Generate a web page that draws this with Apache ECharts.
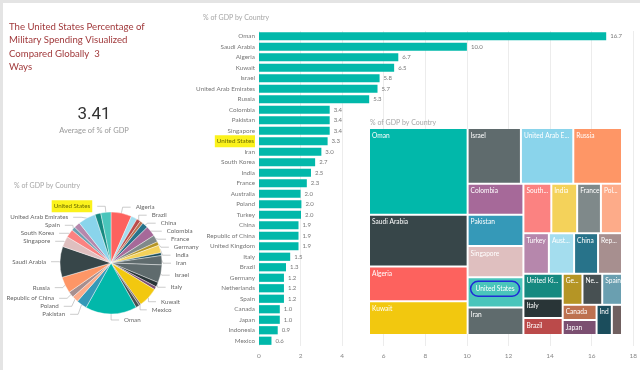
<!DOCTYPE html>
<html><head><meta charset="utf-8">
<script src="https://cdn.jsdelivr.net/npm/echarts@6/dist/echarts.min.js"></script>
<style>
html,body{margin:0;padding:0;background:#fff;}
#c{position:absolute;left:0;top:0;width:640px;height:370px;}
.ft{position:absolute;left:0;top:0;width:640px;height:3px;background:#e4e4e4;}
.fl{position:absolute;left:0;top:0;width:3px;height:370px;background:#e4e4e4;}
</style></head><body>
<div id="c"></div><div class="ft"></div><div class="fl"></div>
<script>
// Countries in the order of the bar chart (descending % of GDP)
const countries = ['Oman','Saudi Arabia','Algeria','Kuwait','Israel','United Arab Emirates','Russia',
  'Colombia','Pakistan','Singapore','United States','Iran','South Korea','India','France',
  'Australia','Poland','Turkey','China','Republic of China','United Kingdom','Italy','Brazil',
  'Germany','Netherlands','Spain','Canada','Japan','Indonesia','Mexico'];
const gdpShare = [16.7,10.0,6.7,6.5,5.8,5.7,5.3,
  3.4,3.4,3.4,3.3,3.0,2.7,2.5,2.3,
  2.0,2.04,2.02,1.9,1.9,1.9,1.5,1.3,
  1.2,1.2,1.2,1.0,1.0,0.9,0.6];
const palette = ['#01B8AA','#374649','#FD625E','#F2C80F','#5F6B6D','#8AD4EB','#FE9666',
  '#A66999','#3599B8','#DFBFBF','#4AC5BB','#5F6B6D','#FB8281','#F4D25A','#7F898A',
  '#A4DDEE','#FDAB89','#B687AC','#28738A','#A78F8F','#168980','#293537','#BB4A4A',
  '#B59525','#475052','#6A9FB0','#BD7150','#7B4F71','#1B4D5C','#706060'];
const xTicks = [0,2,4,6,8,10,12,14,16,18];
const pieHiddenLabels = ['Australia','Canada','Indonesia','Japan','Netherlands','Turkey','United Kingdom'];
const highlighted = 'United States';
const titleLines = ['The United States Percentage of','Military Spending Visualized','Compared Globally  3','Ways'];
const chartTitle = '% of GDP by Country';

const avg = gdpShare.reduce((a,b)=>a+b,0)/gdpShare.length;
const colorOf = n => palette[countries.indexOf(n)];

const treeData = countries.map((n,i)=>({name:n,value:gdpShare[i]}))
  .sort((a,b)=>b.value-a.value)
  .map(d=>({name:d.name,value:d.value,itemStyle:{color:colorOf(d.name)},
    label: d.name===highlighted ? {formatter:'{c|{b}}'} : undefined}));

const pieData = countries.map((n,i)=>({name:n,value:gdpShare[i]}))
  .sort((a,b)=>a.name<b.name?-1:a.name>b.name?1:0)
  .map(d=>({name:d.name,value:d.value,itemStyle:{color:colorOf(d.name)},
    label:{show:pieHiddenLabels.indexOf(d.name)<0},
    labelLine:{show:pieHiddenLabels.indexOf(d.name)<0}}));

const FONT = 'Lato, "Open Sans", sans-serif';
const chart = echarts.init(document.getElementById('c'));
chart.setOption({
  animation:false,
  backgroundColor:'#fff',
  title:[
    {text:titleLines.join('\n'),left:9,top:20,padding:0,
     textStyle:{color:'#a13a3c',fontSize:9.6,fontWeight:'normal',lineHeight:13.4,fontFamily:FONT}},
    {text:avg.toFixed(2),subtext:'Average of % of GDP',left:94,top:106,padding:0,itemGap:4,textAlign:'center',
     textStyle:{color:'#333',fontSize:17,fontWeight:'normal',fontFamily:'Roboto, sans-serif'},
     subtextStyle:{color:'#999',fontSize:7.5,fontFamily:FONT}},
    {text:chartTitle,left:203,top:14,padding:0,textStyle:{color:'#a6a6a6',fontSize:7,fontWeight:'normal',fontFamily:FONT}},
    {text:chartTitle,left:14,top:182,padding:0,textStyle:{color:'#a6a6a6',fontSize:7,fontWeight:'normal',fontFamily:FONT}},
    {text:chartTitle,left:370,top:119,padding:0,textStyle:{color:'#a6a6a6',fontSize:7,fontWeight:'normal',fontFamily:FONT}}
  ],
  grid:{left:259,right:6,top:31,bottom:24,containLabel:false},
  xAxis:{type:'value',min:0,max:xTicks[xTicks.length-1],interval:xTicks[1]-xTicks[0],
    axisLine:{show:false},axisTick:{show:false},
    axisLabel:{color:'#888',fontSize:6.5,fontFamily:FONT,margin:6},
    splitLine:{lineStyle:{color:'#ececec',width:1}}},
  yAxis:{type:'category',data:countries,inverse:true,
    axisLine:{show:false},axisTick:{show:false},
    axisLabel:{color:'#777',fontSize:6.3,fontFamily:FONT,margin:4,
      formatter:v=>v===highlighted?'{h|'+v+'}':v,
      rich:{h:{backgroundColor:'#fbf21c',color:'#6b6b00',padding:[3,1,3,2],fontSize:6.3,fontFamily:FONT}}}},
  series:[
    {type:'bar',data:gdpShare,barCategoryGap:'22%',
     itemStyle:{color:'#01B8AA'},
     label:{show:true,position:'right',distance:4,color:'#777',fontSize:6,fontFamily:FONT,
       formatter:p=>p.value.toFixed(1)}},
    {type:'treemap',left:370,top:129,width:251,height:205,
     roam:false,nodeClick:false,breadcrumb:{show:false},sort:false,
     itemStyle:{gapWidth:2,borderWidth:0,borderColor:'#fff'},
     label:{show:true,position:'insideTopLeft',padding:[3,0,3,2],color:'#fff',fontSize:6.6,fontFamily:FONT,
       overflow:'truncate',ellipsis:'...',
       rich:{c:{color:'#fff',fontSize:6.6,fontFamily:FONT,borderColor:'#1f2bd6',borderWidth:1.5,borderRadius:10,padding:[4,5]}}},
     emphasis:{disabled:true},
     data:treeData},
    {type:'pie',center:[111,263],radius:51,startAngle:90,clockwise:true,
     avoidLabelOverlap:true,bleedMargin:0,
     itemStyle:{borderColor:'#fff',borderWidth:0.4},
     label:{color:'#666',fontSize:6.2,fontFamily:FONT,overflow:'none',
       formatter:p=>p.name===highlighted?'{h|'+p.name+'}':p.name,
       rich:{h:{backgroundColor:'#fbf21c',color:'#6b6b00',padding:[3,2],fontSize:6.2,fontFamily:FONT}}},
     labelLine:{length:6,length2:8,lineStyle:{color:'#aaa',width:0.6}},
     emphasis:{disabled:true},
     data:pieData}
  ]
});
</script></body></html>
